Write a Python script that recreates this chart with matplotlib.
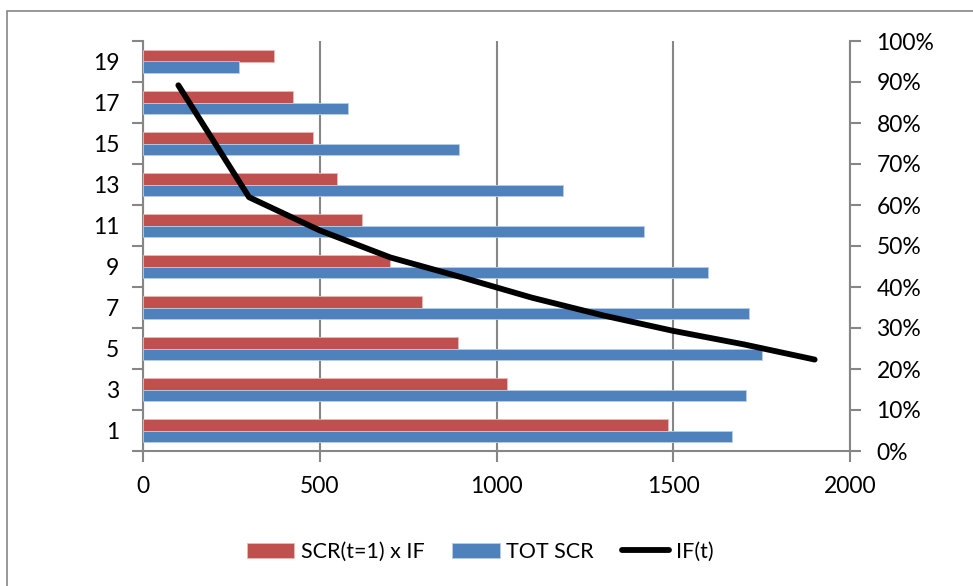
import numpy as np
import matplotlib
matplotlib.use("Agg")
import matplotlib.pyplot as plt
from matplotlib.patches import Rectangle

# data
categories = ["1", "3", "5", "7", "9", "11", "13", "15", "17", "19"]
scr_if = [1486, 1031, 891, 790, 700, 620, 548, 482, 423, 370]
tot_scr = [1665, 1705, 1752, 1714, 1599, 1418, 1189, 895, 580, 272]
if_t = [0.892, 0.619, 0.538, 0.472, 0.424, 0.374, 0.331, 0.293, 0.260, 0.223]

red = "#C0504D"
blue = "#4F81BD"
gray = "#868686"

plt.rcParams["font.family"] = ["Lato", "DejaVu Sans"]
plt.rcParams["font.size"] = 16.5

fig = plt.figure(figsize=(9.73, 5.86), dpi=100)
rect = [143 / 973, 1 - 451 / 586, 707 / 973, 410 / 586]
ax = fig.add_axes(rect)

pos = np.arange(len(categories))
h = 0.27
ax.barh(pos + h / 2, scr_if, height=h, color=red, edgecolor="#E6B9B8", linewidth=0.6,
        label="SCR(t=1) x IF", zorder=3)
ax.barh(pos - h / 2, tot_scr, height=h, color=blue, edgecolor="#B9CDE5", linewidth=0.6,
        label="TOT SCR", zorder=3)

ax.set_xlim(0, 2000)
ax.set_ylim(-0.5, len(categories) - 0.5)
ax.set_xticks([0, 500, 1000, 1500, 2000])
ax.set_yticks(np.arange(len(categories) + 1) - 0.5)
ax.set_yticklabels([])
ax.set_yticks(pos, minor=True)
ax.set_yticklabels(categories, minor=True)
ax.tick_params(axis="y", which="major", length=8, width=1.5, color=gray, direction="out")
ax.tick_params(axis="y", which="minor", length=0, pad=17)
ax.tick_params(axis="x", length=8, width=1.5, color=gray, direction="out", pad=10)
ax.xaxis.grid(True, color=gray, linewidth=1.5, zorder=0)
ax.set_axisbelow(True)
for side in ["top", "right"]:
    ax.spines[side].set_visible(False)
for side in ["left", "bottom"]:
    ax.spines[side].set_color(gray)
    ax.spines[side].set_linewidth(1.5)

# secondary axes for the IF(t) line
ax2 = fig.add_axes(rect)
ax2.set_facecolor("none")
line, = ax2.plot(pos + 0.5, if_t, color="black", linewidth=4.2, solid_capstyle="round",
                 label="IF(t)", zorder=4)
ax2.set_xlim(0, len(categories))
ax2.set_ylim(0, 1)
ax2.set_yticks(np.linspace(0, 1, 11))
ax2.set_yticklabels([f"{int(round(v * 100))}%" for v in np.linspace(0, 1, 11)])
ax2.yaxis.tick_right()
ax2.xaxis.set_visible(False)
ax2.tick_params(axis="y", length=8, width=1.5, color=gray, direction="out", pad=11)
for side in ["top", "left", "bottom"]:
    ax2.spines[side].set_visible(False)
ax2.spines["right"].set_color(gray)
ax2.spines["right"].set_linewidth(1.5)

handles = ax.get_legend_handles_labels()[0] + [line]
labels = ["SCR(t=1) x IF", "TOT SCR", "IF(t)"]
fig.legend(handles, labels, loc="center", bbox_to_anchor=(480 / 973, 1 - 552 / 586),
           ncol=3, frameon=False, fontsize=15.5, handlelength=2.2, handleheight=0.7,
           handletextpad=0.3, columnspacing=1.3)

# chart border
fig.add_artist(Rectangle((7 / 973, -0.1), 1.2, 1 - 11 / 586 + 0.1, fill=False,
                         edgecolor=gray, linewidth=1.2, transform=fig.transFigure))

fig.savefig("out.png", dpi=100)
